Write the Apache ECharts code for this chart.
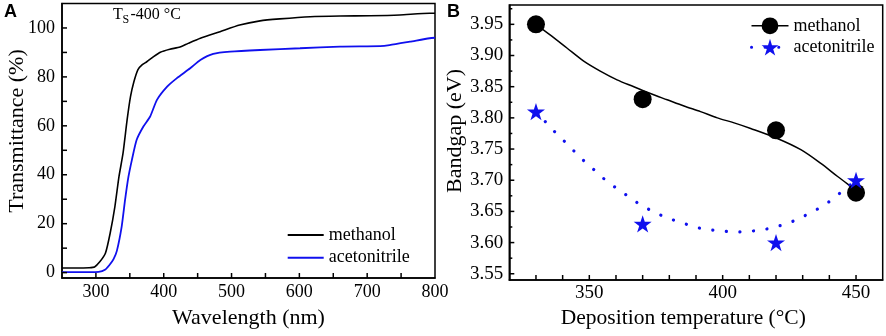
<!DOCTYPE html>
<html><head><meta charset="utf-8">
<script src="https://cdn.jsdelivr.net/npm/echarts@6/dist/echarts.min.js"></script>
<style>html,body{margin:0;padding:0;background:#fff}#c{width:886px;height:336px}</style>
</head><body><div id="c"></div>
<script>
// ---------- Panel A: transmittance ----------
const wlMethanol = [250,270,290,298,306,314,321,328,334,340,346,351,356,362,368,375,385,395,409,424,436,454,483,512,542,571,616,660,704,748,792,800];
const tMethanol  = [1.9,1.9,2.0,2.3,4.5,7.9,16.1,27,39.2,48.8,62.4,71.9,78,83,84.9,86.2,88.3,90.1,91.3,92.2,93.7,95.8,98.5,101.2,102.9,103.7,104.6,104.9,105,105.3,106,106];
const wlAceto    = [250,290,304,314,320,326,331,338,343,348,353,360,370,380,390,405,419,439,454,473,498,542,601,660,719,733,763,792,800];
const tAceto     = [0.2,0.2,0.3,1.3,3.1,5.5,9,18.8,29.7,39.2,46,54.2,59.7,63.8,70.6,76,79.4,83.5,86.9,89.4,90.3,91,91.7,92.4,92.6,93,94.4,95.8,96];
const xLabelsA = [300,400,500,600,700,800];
const yLabelsA = [0,20,40,60,80,100];
const xTicksA = [300,350,400,450,500,550,600,650,700,750];
const yTicksA = [0,10,20,30,40,50,60,70,80,90,100];

// ---------- Panel B: bandgap ----------
const tempB = [330,370,420,450];
const gapMethanol = [3.95,3.83,3.78,3.68];
const gapAceto = [3.81,3.63,3.60,3.70];
const fitMethanolX = [330,335.3,341.6,347.9,354.1,360.4,366.7,372.9,379.2,385.5,391.7,398,404.3,410.5,420.5,429.3,436.8,443.1,448.1,450];
const fitMethanolY = [3.95,3.933,3.912,3.891,3.875,3.861,3.850,3.839,3.829,3.819,3.810,3.800,3.792,3.783,3.767,3.749,3.727,3.706,3.690,3.684];
const fitAcetoX = [330,333.5,337.2,341,344.7,348.5,352.5,356.4,360.6,365,369.4,373.9,378.9,383.9,388.9,393.9,399.2,404.2,409.5,414.5,419.5,424.5,429.3,433.9,438.1,442.1,446.2,450];
const fitAcetoY = [3.81,3.794,3.777,3.761,3.745,3.729,3.714,3.699,3.686,3.673,3.660,3.650,3.640,3.633,3.626,3.621,3.619,3.617,3.618,3.620,3.625,3.631,3.640,3.650,3.660,3.673,3.687,3.70];
const xLabelsB = [350,400,450];
const yLabelsB = [3.55,3.60,3.65,3.70,3.75,3.80,3.85,3.90,3.95];
const xTicksB = [330,340,350,360,370,380,390,400,410,420,430,440,450];
const yTicksB = [3.55,3.60,3.65,3.70,3.75,3.80,3.85,3.90,3.95];
const yMinorTicksB = [3.575,3.625,3.675,3.725,3.775,3.825,3.875,3.925,3.975];

const zip = (a, b) => a.map((v, i) => [v, b[i]]);
const SERIF = '"Liberation Serif","Times New Roman",serif';
const STAR = 'path://M50,0L61.23,34.55L97.55,34.55L68.17,55.9L79.39,90.45L50,69.1L20.61,90.45L31.83,55.9L2.45,34.55L38.77,34.55Z';
const near = (v, arr) => arr.some(a => Math.abs(a - v) < 1e-6);

function valAxis(o) {
  return {
    type: 'value', min: o.min, max: o.max, splitNumber: o.split, position: o.pos, gridIndex: o.grid,
    axisLine: { show: true, onZero: false, lineStyle: { color: '#000', width: 1.5 } },
    axisTick: { show: false },
    minorTick: { show: false },
    axisLabel: {
      showMinLabel: true, showMaxLabel: true, hideOverlap: false,
      formatter: v => near(v, o.labels) ? o.fmt(v) : '',
      color: '#000', fontFamily: SERIF, fontSize: o.fs, margin: o.margin
    },
    splitLine: { show: false }, minorSplitLine: { show: false }
  };
}

// inward tick marks placed through the axis scales
function tickSeries(grid, dir, values, len) {
  return {
    type: 'custom', xAxisIndex: grid, yAxisIndex: grid, silent: true, clip: false, z: 10,
    data: values.map(v => dir === 'x' ? [v, grid === 0 ? 50 : 3.7] : [grid === 0 ? 500 : 400, v]),
    renderItem: function (params, api) {
      const cs = params.coordSys;
      const p = api.coord([api.value(0), api.value(1)]);
      let shape;
      if (dir === 'x') {
        const yb = cs.y + cs.height;
        shape = { x1: p[0], y1: yb, x2: p[0], y2: yb - len };
      } else {
        shape = { x1: cs.x, y1: p[1], x2: cs.x + len, y2: p[1] };
      }
      return { type: 'line', shape: shape, style: { stroke: '#000', lineWidth: 1.5 } };
    }
  };
}

const chart = echarts.init(document.getElementById('c'), null, { renderer: 'canvas' });
chart.setOption({
  animation: false,
  backgroundColor: '#fff',
  grid: [
    { left: 62, right: 451, top: 3.5, bottom: 58, show: true, borderColor: '#000', borderWidth: 1.5, backgroundColor: 'transparent' },
    { left: 509.3, right: 3.3, top: 5, bottom: 56, show: true, borderColor: '#000', borderWidth: 1.5, backgroundColor: 'transparent' }
  ],
  xAxis: [
    valAxis({ grid: 0, min: 250, max: 800, split: 11, pos: 'bottom', labels: xLabelsA, fmt: v => String(v), fs: 18, margin: 5 }),
    valAxis({ grid: 1, min: 320, max: 460, split: 14, pos: 'bottom', labels: xLabelsB, fmt: v => String(v), fs: 19, margin: 4 })
  ],
  yAxis: [
    valAxis({ grid: 0, min: -2.2, max: 110, split: 11, pos: 'left', labels: yLabelsA, fmt: v => String(v), fs: 18, margin: 7 }),
    valAxis({ grid: 1, min: 3.54, max: 3.981, split: 9, pos: 'left', labels: yLabelsB, fmt: v => v.toFixed(2), fs: 19, margin: 6 })
  ],
  legend: [
    {
      data: ['methanol', 'acetonitrile'], padding: 0,
      orient: 'vertical', left: 287.7, top: 226, itemWidth: 36, itemHeight: 2, itemGap: 4.7, itemTextGap: 5,
      icon: 'rect', textStyle: { fontFamily: SERIF, fontSize: 18, color: '#000' }
    },
    {
      data: [
        { name: 'methanol ', lineStyle: { width: 1.5 } },
        { name: 'acetonitrile ', lineStyle: { width: 3 } }
      ], padding: 0,
      orient: 'vertical', left: 750, top: 16.8, itemWidth: 37, itemHeight: 21, itemGap: 3.4, itemTextGap: 5,
      textStyle: { fontFamily: SERIF, fontSize: 18, color: '#000' }
    }
  ],
  series: [
    { name: 'methanol', type: 'line', xAxisIndex: 0, yAxisIndex: 0, data: zip(wlMethanol, tMethanol), symbol: 'none', smooth: 0.2,
      color: '#000', lineStyle: { color: '#000', width: 1.6 } },
    { name: 'acetonitrile', type: 'line', xAxisIndex: 0, yAxisIndex: 0, data: zip(wlAceto, tAceto), symbol: 'none', smooth: 0.2,
      color: '#1010ee', lineStyle: { color: '#1010ee', width: 1.8 } },
    { name: 'methanol ', type: 'line', xAxisIndex: 1, yAxisIndex: 1, data: zip(fitMethanolX, fitMethanolY), smooth: 0.3,
      symbol: 'circle', showSymbol: false, color: '#000', itemStyle: { color: '#000' }, lineStyle: { color: '#000', width: 1.5 } },
    { name: 'acetonitrile ', type: 'line', xAxisIndex: 1, yAxisIndex: 1, data: zip(fitAcetoX, fitAcetoY), smooth: 0.3,
      symbol: STAR, symbolKeepAspect: true, showSymbol: false, color: '#1010ee', itemStyle: { color: '#1010ee' },
      lineStyle: { color: '#1010ee', width: 3.2, type: [0.1, 13.5], cap: 'round' } },
    { name: 'methanol pts', type: 'scatter', xAxisIndex: 1, yAxisIndex: 1, data: zip(tempB, gapMethanol),
      symbol: 'circle', symbolSize: 18, itemStyle: { color: '#000', opacity: 1 }, z: 5 },
    { name: 'acetonitrile pts', type: 'scatter', xAxisIndex: 1, yAxisIndex: 1, data: zip(tempB, gapAceto),
      symbol: STAR, symbolKeepAspect: true, symbolSize: 18, itemStyle: { color: '#1010ee', opacity: 1 }, z: 6 },
    tickSeries(0, 'x', xTicksA, 5),
    tickSeries(0, 'y', yTicksA, 5),
    tickSeries(1, 'x', xTicksB, 5),
    tickSeries(1, 'y', yTicksB, 5),
    tickSeries(1, 'y', yMinorTicksB, 3)
  ],
  graphic: [
    { type: 'text', x: 17.5, y: 131, rotation: Math.PI / 2, style: { text: 'Transmittance (%)', font: '22px ' + SERIF, fill: '#000', textAlign: 'center', textVerticalAlign: 'middle' } },
    { type: 'text', x: 248.5, y: 318, style: { text: 'Wavelength (nm)', font: '22px ' + SERIF, fill: '#000', textAlign: 'center', textVerticalAlign: 'middle' } },
    { type: 'text', x: 455.3, y: 131, rotation: Math.PI / 2, style: { text: 'Bandgap (eV)', font: '22px ' + SERIF, fill: '#000', textAlign: 'center', textVerticalAlign: 'middle' } },
    { type: 'text', x: 683.3, y: 318, style: { text: 'Deposition temperature (\u00B0C)', font: '21.5px ' + SERIF, fill: '#000', textAlign: 'center', textVerticalAlign: 'middle' } },
    { type: 'text', x: 4, y: 12.5, style: { text: 'A', font: 'bold 18px "Liberation Sans",Arial,sans-serif', fill: '#000', textAlign: 'left', textVerticalAlign: 'middle' } },
    { type: 'text', x: 447, y: 12.5, style: { text: 'B', font: 'bold 18px "Liberation Sans",Arial,sans-serif', fill: '#000', textAlign: 'left', textVerticalAlign: 'middle' } },
    { type: 'text', x: 113, y: 14.3, style: { text: 'T', font: '16px ' + SERIF, fill: '#000', textAlign: 'left', textVerticalAlign: 'middle' } },
    { type: 'text', x: 122.5, y: 19.5, style: { text: 'S', font: '12px ' + SERIF, fill: '#000', textAlign: 'left', textVerticalAlign: 'middle' } },
    { type: 'text', x: 130.5, y: 14.3, style: { text: '-400 \u00B0C', font: '16px ' + SERIF, fill: '#000', textAlign: 'left', textVerticalAlign: 'middle' } }
  ]
});
</script>
</body></html>
